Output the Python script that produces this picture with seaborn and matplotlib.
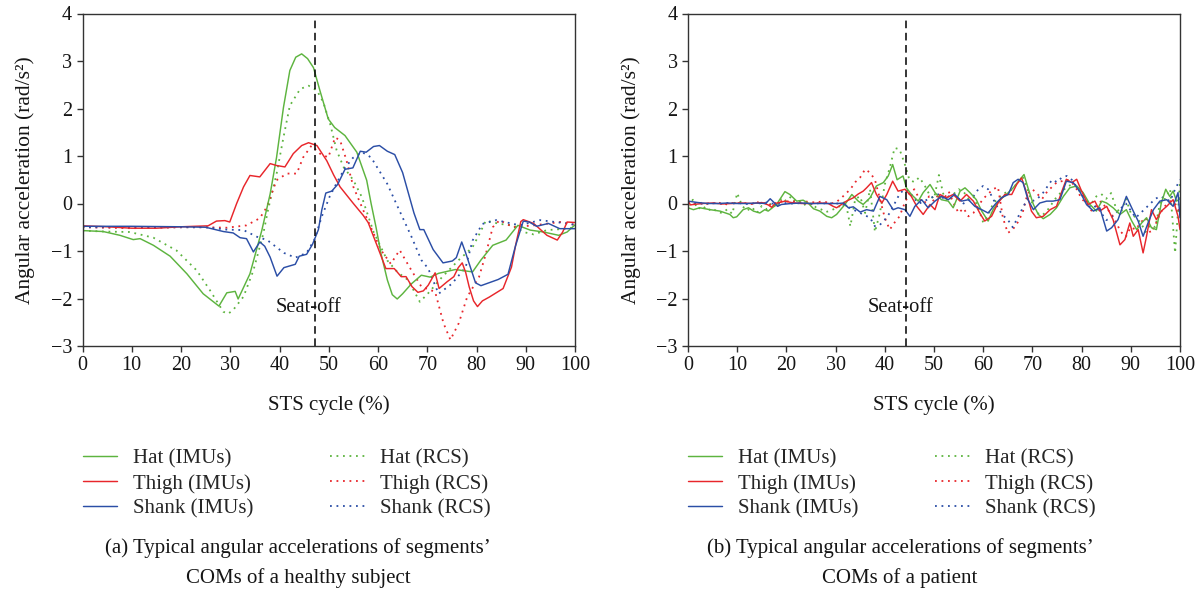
import numpy as np
import pandas as pd
import matplotlib
matplotlib.use("Agg")
import matplotlib.pyplot as plt
import seaborn as sns
from matplotlib.lines import Line2D

# ---------------- data: (a) healthy subject ----------------
a_hat_imu_x = [0, 4.2, 7.6, 10.3, 11.7, 14.4, 17.8, 21.2, 24.5, 27.7, 29.3, 31.0, 31.6, 34.0, 36.4, 38.1, 39.4,
               40.8, 42.1, 43.3, 44.5, 45.7, 46.9, 48.2, 49.9, 51.2, 53.3, 55.7, 57.7, 58.6, 59.6, 60.6, 61.9,
               62.9, 63.9, 65.0, 66.8, 68.8, 70.6, 72.3, 75.7, 79.2, 80.9, 83.3, 86.0, 88.4, 90.9, 93.6, 96.7,
               98.4, 100]
a_hat_imu_y = [-0.57, -0.59, -0.67, -0.76, -0.74, -0.88, -1.11, -1.48, -1.90, -2.16, -1.88, -1.85, -2.01, -1.48,
               -0.57, 0.20, 0.97, 2.02, 2.80, 3.08, 3.15, 3.05, 2.86, 2.38, 1.78, 1.60, 1.43, 1.08, 0.49, 0.00,
               -0.50, -1.05, -1.61, -1.92, -2.01, -1.90, -1.69, -1.51, -1.55, -1.47, -1.39, -1.44, -1.19, -0.88,
               -0.77, -0.46, -0.56, -0.60, -0.67, -0.60, -0.45]

a_thigh_imu_x = [0, 5, 10, 15, 20, 25.5, 27.2, 28.9, 29.9, 31.3, 32.7, 34.0, 36.0, 38.1, 39.4, 41.1, 42.8, 44.5,
                 45.9, 47.6, 49.6, 51.0, 52.3, 55.0, 57.0, 58.0, 59.9, 61.6, 63.3, 64.7, 65.7, 66.9, 68.1, 69.2,
                 70.2, 71.6, 72.4, 74.0, 75.4, 76.3, 77.1, 77.8, 78.5, 79.4, 80.2, 81.2, 82.6, 85.4, 87.1, 88.0,
                 89.0, 89.5, 91.6, 94.3, 96.4, 97.5, 98.4, 100]
a_thigh_imu_y = [-0.47, -0.49, -0.52, -0.52, -0.49, -0.47, -0.37, -0.36, -0.39, 0.00, 0.35, 0.59, 0.56, 0.84,
                 0.80, 0.77, 1.05, 1.22, 1.28, 1.22, 0.90, 0.60, 0.35, 0.00, -0.25, -0.40, -0.91, -1.37, -1.37,
                 -1.54, -1.54, -1.75, -1.87, -1.84, -1.72, -1.46, -1.79, -1.65, -1.54, -1.35, -1.25, -1.45, -1.75,
                 -2.05, -2.17, -2.05, -1.97, -1.79, -1.34, -0.85, -0.38, -0.34, -0.42, -0.67, -0.77, -0.60, -0.39,
                 -0.40]

a_shank_imu_x = [0, 10, 20, 25, 28.6, 30.6, 32.0, 33.3, 34.7, 36.0, 37.0, 38.1, 39.5, 40.9, 43.2, 44.0, 45.5,
                 46.7, 47.9, 48.6, 49.4, 50.6, 51.8, 53.3, 54.9, 56.4, 57.6, 59.1, 60.3, 61.9, 63.4, 65.0, 67.3,
                 68.5, 69.3, 71.2, 73.2, 75.1, 75.9, 77.0, 77.8, 79.8, 80.9, 84.4, 86.4, 87.9, 89.5, 90.7, 92.2,
                 94.6, 96.9, 100]
a_shank_imu_y = [-0.48, -0.48, -0.49, -0.50, -0.59, -0.62, -0.72, -0.74, -1.02, -0.81, -0.90, -1.13, -1.53, -1.35,
                 -1.28, -1.11, -1.07, -0.86, -0.55, -0.13, 0.22, 0.26, 0.40, 0.72, 0.75, 1.10, 1.08, 1.20, 1.22,
                 1.10, 1.03, 0.65, -0.20, -0.55, -0.55, -0.97, -1.25, -1.21, -1.14, -0.81, -1.04, -1.67, -1.73,
                 -1.60, -1.49, -0.90, -0.37, -0.39, -0.48, -0.42, -0.53, -0.53]

a_hat_rcs_x = [0, 4.2, 9.6, 14.4, 19.1, 23.2, 25.9, 28.6, 29.6, 30.6, 32.7, 34.7, 36.7, 37.7, 39.4, 40.8, 42.1,
               44.2, 45.9, 47.6, 48.9, 50.3, 51.6, 53.0, 55.0, 56.7, 59.1, 61.9, 64.0, 66.1, 68.5, 70.1, 73.0,
               76.4, 79.2, 80.8, 81.9, 84.7, 87.4, 89.5, 91.6, 94.3, 98.4, 100]
a_hat_rcs_y = [-0.57, -0.59, -0.60, -0.72, -0.99, -1.41, -1.83, -2.28, -2.32, -2.24, -1.96, -1.41, -0.64, -0.12,
               0.62, 1.39, 2.06, 2.41, 2.48, 2.38, 2.13, 1.67, 1.12, 0.77, 0.49, 0.14, -0.60, -1.20, -1.45, -1.61,
               -2.07, -1.90, -1.55, -1.19, -0.92, -0.60, -0.36, -0.43, -0.46, -0.60, -0.65, -0.56, -0.53, -0.50]

a_thigh_rcs_x = [0, 10, 20, 25, 29.3, 33.3, 36.0, 37.4, 39.4, 41.5, 43.5, 44.8, 46.5, 48.2, 49.9, 51.3, 52.3,
                 53.6, 55.0, 57.0, 60.6, 62.6, 64.4, 66.4, 68.8, 71.6, 73.3, 74.7, 76.4, 78.1, 80.5, 81.9, 83.3,
                 84.7, 87.4, 91.6, 97.0, 100]
a_thigh_rcs_y = [-0.50, -0.52, -0.50, -0.50, -0.51, -0.46, -0.31, -0.08, 0.49, 0.63, 0.63, 0.97, 1.22, 1.05, 0.97,
                 1.39, 1.33, 0.91, 0.35, -0.14, -0.98, -1.27, -0.98, -1.34, -1.75, -1.86, -2.52, -2.87, -2.52,
                 -1.97, -1.55, -1.06, -0.50, -0.35, -0.50, -0.46, -0.39, -0.45]

a_shank_rcs_x = [0, 10, 20, 25, 29.3, 32.7, 35.4, 37.5, 40.9, 43.2, 45.5, 47.1, 48.6, 50.2, 51.8, 53.3, 54.9,
                 56.8, 58.6, 61.9, 64.0, 66.8, 68.8, 70.2, 72.3, 75.0, 77.8, 79.2, 81.2, 84.0, 88.8, 92.9, 98.4, 100]
a_shank_rcs_y = [-0.50, -0.50, -0.50, -0.50, -0.55, -0.56, -0.70, -0.77, -1.04, -1.14, -1.04, -0.76, -0.27, 0.15,
                 0.47, 0.75, 0.96, 1.08, 0.97, 0.41, -0.07, -0.70, -1.19, -1.37, -1.90, -1.69, -1.34, -0.78, -0.43,
                 -0.35, -0.46, -0.35, -0.42, -0.45]

# ---------------- data: (b) patient ----------------
b_hat_imu_x = [0, 1.1, 2.4, 4.5, 6.5, 8.5, 9.2, 9.9, 11.2, 12.3, 13.3, 14.6, 15.6, 16.3, 18, 19.7, 20.7, 22.1,
               23.4, 24.5, 25.5, 26.8, 28.2, 29.2, 30.2, 31.9, 33.3, 34.6, 35.6, 37, 38.3, 39.7, 40.7, 41.6, 42.5,
               43.7, 44.4, 45.4, 46.8, 47.8, 49.2, 50.2, 51.5, 52.9, 53.9, 55.3, 56.3, 57.3, 58.6, 59.7, 61, 62,
               63.4, 64.7, 66.1, 67.5, 68.3, 69.1, 70.2, 71.2, 72.2, 73.6, 74.9, 76.3, 77.6, 79, 80.3, 81.7, 83,
               84.1, 85.1, 86.4, 87.8, 89.1, 90.2, 91.2, 92.2, 93.2, 94.2, 95.2, 96.2, 97.1, 97.9, 98.6, 99.3, 100]
b_hat_imu_y = [-0.09, -0.13, -0.09, -0.13, -0.16, -0.23, -0.30, -0.28, -0.13, -0.09, -0.16, -0.20, -0.13, -0.16,
               -0.02, 0.25, 0.19, 0.05, 0.07, 0.00, -0.11, -0.16, -0.27, -0.30, -0.23, -0.02, 0.19, 0.05, -0.02,
               0.12, 0.37, 0.44, 0.58, 0.82, 0.50, 0.58, 0.33, 0.19, 0.05, 0.23, 0.40, 0.23, 0.08, 0.05, -0.09,
               0.26, 0.33, 0.23, 0.08, -0.16, -0.37, -0.13, 0.08, 0.19, 0.33, 0.51, 0.61, 0.33, -0.02, -0.23,
               -0.32, -0.23, -0.09, 0.15, 0.33, 0.37, 0.23, -0.02, -0.16, 0.05, 0.01, -0.09, -0.23, -0.13, -0.37,
               -0.55, -0.41, -0.30, -0.51, -0.55, 0.01, 0.30, 0.15, 0.26, 0.05, 0.10]

b_thigh_imu_x = [0, 0.5, 1.1, 3, 5, 7, 9, 11, 13, 15, 16.3, 17, 17.7, 19, 19.7, 21, 23, 25, 27, 28.5, 29.5, 30.2,
                 31.2, 32.2, 33.6, 34.6, 35.6, 36.3, 37.3, 38.3, 39.4, 40.4, 41.6, 42.7, 44.1, 45.4, 46.5, 47.8,
                 49.2, 50.2, 51.2, 52.5, 53.9, 55.3, 56.6, 58, 59.3, 60.3, 61.7, 63, 64.4, 65.8, 66.8, 67.8, 68.8,
                 69.8, 70.8, 72.2, 73.6, 74.9, 75.9, 76.9, 78, 79, 80, 81.3, 82.7, 83.7, 85.1, 86.4, 87.8, 88.8,
                 89.8, 90.5, 91.5, 92.5, 93.2, 94.2, 95.2, 96.2, 97.3, 98.6, 99.6, 100]
b_thigh_imu_y = [0.05, -0.03, -0.02, 0.00, 0.01, -0.01, 0.00, 0.01, 0.00, 0.02, -0.03, -0.08, 0.00, 0.03, 0.05,
                 0.02, 0.00, 0.00, 0.01, 0.00, -0.06, -0.09, -0.02, 0.05, 0.12, 0.20, 0.26, 0.33, 0.44, 0.19, 0.01,
                 0.19, 0.47, 0.26, 0.30, 0.15, -0.06, -0.23, -0.02, -0.13, 0.19, 0.12, 0.19, 0.05, 0.19, 0.05,
                 -0.20, -0.37, -0.27, 0.01, 0.19, 0.19, 0.40, 0.54, 0.23, -0.16, -0.30, -0.27, -0.13, -0.06, 0.23,
                 0.51, 0.44, 0.51, 0.26, -0.02, 0.05, -0.16, -0.06, -0.34, -0.87, -0.76, -0.41, -0.69, -0.55,
                 -1.04, -0.69, -0.13, -0.34, -0.16, -0.06, 0.08, -0.27, -0.55]

b_shank_imu_x = [0, 2, 4, 6, 8, 10, 12, 14, 15.8, 16.7, 17.5, 18.2, 19, 21, 23, 25, 27, 29, 30.5, 31.6, 32.6,
                 33.6, 35, 36.3, 37.7, 39, 40.4, 41.7, 42.7, 44.1, 45.1, 46.1, 47.5, 48.8, 50.2, 51.5, 52.9, 54.2,
                 55.6, 57, 58.3, 59.7, 61, 62.4, 63.7, 65.1, 66.1, 67.1, 68.1, 69.1, 70.2, 71.5, 72.9, 74.2, 75.6,
                 76.9, 78.3, 79.6, 81, 82.4, 83.7, 85.1, 86.1, 87.4, 89.1, 90.5, 91.5, 92.5, 93.5, 94.6, 95.9,
                 97.3, 98.6, 99.6, 100]
b_shank_imu_y = [0.05, 0.02, 0.00, 0.00, 0.01, 0.00, 0.00, 0.01, 0.00, 0.10, 0.02, -0.06, -0.02, 0.00, 0.01, 0.00,
                 0.00, 0.00, 0.00, 0.01, -0.09, -0.07, -0.18, -0.13, -0.16, 0.15, 0.08, -0.13, -0.09, -0.13, -0.27,
                 -0.06, 0.08, -0.09, 0.05, 0.15, 0.08, 0.19, 0.05, 0.08, -0.06, -0.13, -0.20, -0.02, 0.12, 0.19,
                 0.44, 0.51, 0.44, 0.08, -0.13, 0.01, 0.05, 0.05, 0.08, 0.47, 0.44, 0.26, -0.02, -0.16, -0.09,
                 -0.58, -0.51, -0.34, 0.15, -0.16, -0.37, -0.69, -0.41, -0.13, 0.05, 0.08, -0.06, 0.23, -0.30]

b_rcs_x = list(range(0, 101))
b_hat_rcs_y = [-0.05, 0.08, -0.12, -0.05, -0.15, -0.10, -0.18, -0.20, -0.12, -0.22, 0.22, -0.05, -0.15, -0.08,
               -0.20, -0.05, -0.12, 0.02, -0.10, 0.12, 0.05, 0.15, 0.02, 0.05, -0.05, 0.00, -0.08, -0.12, -0.18,
               -0.15, -0.10, -0.05, 0.05, -0.48, 0.10, 0.15, -0.20, 0.30, -0.60, -0.20, 0.40, 0.75, 1.17, 1.14,
               0.85, 0.50, 0.45, 0.55, 0.40, 0.20, 0.10, 0.60, 0.15, 0.05, 0.20, 0.30, 0.25, 0.10, 0.15, -0.10,
               -0.40, -0.25, 0.00, 0.10, 0.20, 0.25, 0.30, 0.45, 0.57, 0.30, 0.00, -0.20, -0.25, -0.15, 0.00,
               0.15, 0.25, 0.35, 0.40, 0.35, 0.20, 0.05, 0.00, 0.15, 0.20, 0.10, 0.22, -0.10, -0.20, 0.10, -0.20,
               -0.30, -0.40, -0.60, -0.45, -0.50, 0.05, 0.10, 0.30, -1.04, 0.45]
b_thigh_rcs_y = [0.05, -0.02, 0.00, 0.02, -0.01, 0.00, 0.02, 0.00, -0.02, 0.01, 0.00, 0.02, 0.00, -0.01, 0.03,
                 0.00, 0.02, -0.05, 0.03, 0.05, 0.04, 0.06, 0.03, 0.02, 0.04, 0.03, 0.02, 0.04, 0.03, 0.00, 0.02,
                 0.10, 0.20, 0.30, 0.45, 0.55, 0.72, 0.65, 0.50, 0.10, -0.30, -0.55, -0.40, -0.27, 0.00, 0.22,
                 0.30, 0.10, 0.00, 0.15, 0.05, 0.20, 0.10, 0.25, 0.00, -0.20, -0.10, -0.27, -0.20, -0.05, 0.10,
                 0.20, 0.30, 0.35, -0.30, -0.62, -0.55, -0.40, -0.20, 0.20, 0.30, 0.20, 0.10, 0.25, 0.35, 0.45,
                 0.47, 0.50, 0.45, 0.30, 0.10, 0.00, -0.15, -0.05, 0.05, -0.10, -0.20, -0.40, -0.60, -0.70, -0.50,
                 -0.55, -0.40, -0.30, -0.62, -0.45, -0.20, -0.05, 0.05, 0.00, -0.20]
b_shank_rcs_y = [0.03, 0.00, 0.01, -0.01, 0.00, 0.01, 0.00, -0.01, 0.01, 0.00, 0.01, 0.00, -0.01, 0.00, 0.01,
                 0.00, 0.02, 0.00, -0.01, 0.00, 0.01, 0.00, 0.00, 0.01, 0.00, -0.01, 0.00, 0.01, 0.00, 0.00, 0.00,
                 0.00, -0.05, -0.10, -0.15, -0.20, -0.25, -0.30, -0.48, -0.45, -0.34, -0.20, 0.00, 0.20, 0.30,
                 0.25, 0.10, 0.00, 0.05, 0.10, 0.15, 0.20, 0.10, 0.15, 0.20, 0.10, 0.00, 0.05, 0.15, 0.30, 0.37,
                 0.30, 0.10, -0.10, -0.25, -0.34, -0.50, -0.30, -0.10, 0.10, 0.05, 0.10, 0.20, 0.35, 0.50, 0.45,
                 0.55, 0.58, 0.50, 0.35, 0.20, 0.00, -0.10, -0.05, -0.20, -0.35, -0.30, -0.20, -0.10, 0.00, -0.15,
                 -0.30, -0.20, -0.10, 0.00, 0.10, 0.15, 0.10, 0.05, 0.30, 0.50]

seat_off_a = 47.2
seat_off_b = 44.4

series_names = ["Hat (IMUs)", "Thigh (IMUs)", "Shank (IMUs)", "Hat (RCS)", "Thigh (RCS)", "Shank (RCS)"]
x_ticks = list(range(0, 101, 10))
y_ticks = list(range(-3, 5))
captions_a = ["(a) Typical angular accelerations of segments\u2019", "COMs of a healthy subject"]
captions_b = ["(b) Typical angular accelerations of segments\u2019", "COMs of a patient"]

# ---------------- style ----------------
GREEN = "#5DB43F"
RED = "#E8262B"
BLUE = "#2B4EA6"
DOT = (0, (1, 2.6))
colors = [GREEN, RED, BLUE, GREEN, RED, BLUE]
styles = ["-", "-", "-", DOT, DOT, DOT]
TXT = "#151515"

sns.set_theme(style="white")
plt.rcParams['font.family'] = ['Liberation Serif', 'DejaVu Serif']
plt.rcParams['axes.unicode_minus'] = True

fig = plt.figure(figsize=(12.03, 5.95), dpi=100)
ax_a = fig.add_axes([82.5 / 1203, 1 - 346 / 595, 492.5 / 1203, 332.5 / 595])
ax_b = fig.add_axes([688 / 1203, 1 - 346 / 595, 492 / 1203, 332.5 / 595])

panel_a = [(a_hat_imu_x, a_hat_imu_y), (a_thigh_imu_x, a_thigh_imu_y), (a_shank_imu_x, a_shank_imu_y),
           (a_hat_rcs_x, a_hat_rcs_y), (a_thigh_rcs_x, a_thigh_rcs_y), (a_shank_rcs_x, a_shank_rcs_y)]
panel_b = [(b_hat_imu_x, b_hat_imu_y), (b_thigh_imu_x, b_thigh_imu_y), (b_shank_imu_x, b_shank_imu_y),
           (b_rcs_x, b_hat_rcs_y), (b_rcs_x, b_thigh_rcs_y), (b_rcs_x, b_shank_rcs_y)]


def draw(ax, panel, seat_off, caps, cx, legend_x):
    order = [3, 4, 5, 0, 1, 2]
    for i in order:
        xs, ys = panel[i]
        df = pd.DataFrame({"x": xs, "y": ys})
        lw = 1.05 if styles[i] == "-" else 1.3
        sns.lineplot(data=df, x="x", y="y", ax=ax, color=colors[i], linestyle=styles[i],
                     linewidth=lw, estimator=None, sort=False, legend=False)
    ax.axvline(seat_off, ymin=0, ymax=0.985, color="black", linestyle=(0, (5, 3)), linewidth=1.1)
    ax.text(seat_off - 1.3, -2.2, "Seat-off", ha="center", va="center", fontsize=14.8, color=TXT)
    ax.set_xlim(0, 100)
    ax.set_ylim(-3, 4)
    ax.set_xticks(x_ticks)
    ax.set_yticks(y_ticks)
    ax.tick_params(axis="both", which="major", direction="out", length=4, width=1.0, color="#333333",
                   labelsize=14.5, pad=3.5, left=True, bottom=True, top=False, right=False, labelcolor=TXT)
    for sp in ax.spines.values():
        sp.set_visible(True)
        sp.set_color("#333333")
        sp.set_linewidth(1.0)
    ax.set_xlabel("STS cycle (%)", fontsize=15, color=TXT, labelpad=14)
    ax.set_ylabel("Angular acceleration (rad/s\u00b2)", fontsize=15.5, color=TXT, labelpad=11)
    handles = [Line2D([0], [0], color=colors[i], linestyle=styles[i], linewidth=1.05 if styles[i] == "-" else 1.3)
               for i in range(6)]
    ax.legend(handles, series_names, ncol=2, loc="upper left", bbox_to_anchor=(legend_x, 1 - 449 / 595),
              bbox_transform=fig.transFigure, frameon=False, fontsize=15, handlelength=1.65,
              handletextpad=0.75, columnspacing=3.7, labelspacing=0.25, borderpad=0, borderaxespad=0)
    fig.text(cx, 1 - 548 / 595, caps[0], ha="center", va="center", fontsize=15, color=TXT)
    fig.text(cx, 1 - 578 / 595, caps[1], ha="center", va="center", fontsize=15, color=TXT)


draw(ax_a, panel_a, seat_off_a, captions_a, 298 / 1203, 83 / 1203)
draw(ax_b, panel_b, seat_off_b, captions_b, 900 / 1203, 688 / 1203)

fig.savefig("out.png", dpi=100)
